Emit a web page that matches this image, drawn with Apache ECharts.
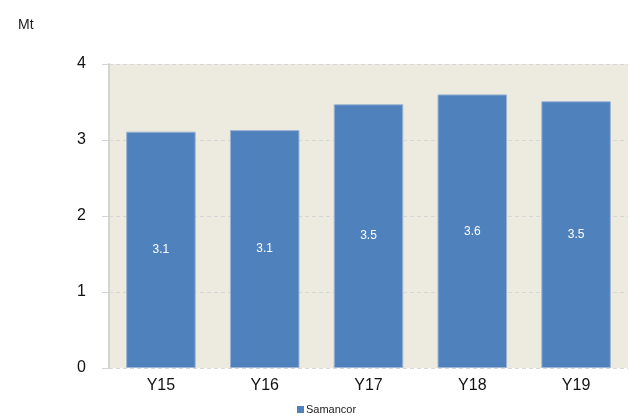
<!DOCTYPE html>
<html>
<head>
<meta charset="utf-8">
<script src="https://cdn.jsdelivr.net/npm/echarts@6/dist/echarts.min.js"></script>
<style>
  html, body { margin: 0; padding: 0; background: #fff; }
  #chart { width: 629px; height: 419px; }
</style>
</head>
<body>
<div id="chart"></div>
<script>
var years = ['Y15', 'Y16', 'Y17', 'Y18', 'Y19'];
var samancor = [3.11, 3.13, 3.47, 3.6, 3.51];
var barLabels = ['3.1', '3.1', '3.5', '3.6', '3.5'];

var chart = echarts.init(document.getElementById('chart'));
chart.setOption({
  animation: false,
  textStyle: { fontFamily: 'Liberation Sans, Arial, sans-serif' },
  title: {
    text: 'Mt', left: 13, top: 13,
    textStyle: { fontSize: 14, fontWeight: 'normal', color: '#222' }
  },
  legend: {
    bottom: -1, left: 292,
    itemWidth: 7, itemHeight: 7, icon: 'rect', itemGap: 4,
    itemStyle: { borderWidth: 0, color: '#4F81BD' },
    textStyle: { fontSize: 11, color: '#222', padding: [0, 0, 0, -3] },
    data: ['Samancor']
  },
  grid: { left: 109, right: 1, top: 64, bottom: 51, show: true, backgroundColor: '#EDEAE0', borderWidth: 0 },
  xAxis: {
    type: 'category',
    data: years,
    axisLine: { show: false },
    axisTick: { show: false },
    axisLabel: { fontSize: 16, color: '#111', margin: 10 }
  },
  yAxis: {
    type: 'value', min: 0, max: 4, interval: 1,
    axisLine: { show: true, lineStyle: { color: '#d4d4d4', width: 2 } },
    axisTick: { show: true, length: 7, lineStyle: { color: '#d4d4d4' } },
    axisLabel: { fontSize: 16, color: '#111', margin: 23 },
    splitLine: { show: true, lineStyle: { color: '#d8d8d8', type: [4, 3] } }
  },
  series: [{
    name: 'Samancor',
    type: 'bar',
    data: samancor,
    barWidth: '67%',
    itemStyle: { color: '#4F81BD', borderColor: '#9DB4D2', borderWidth: 1 },
    label: {
      show: true, position: 'inside', color: '#fff', fontSize: 12,
      formatter: function (p) { return barLabels[p.dataIndex]; }
    }
  }]
});
</script>
</body>
</html>
